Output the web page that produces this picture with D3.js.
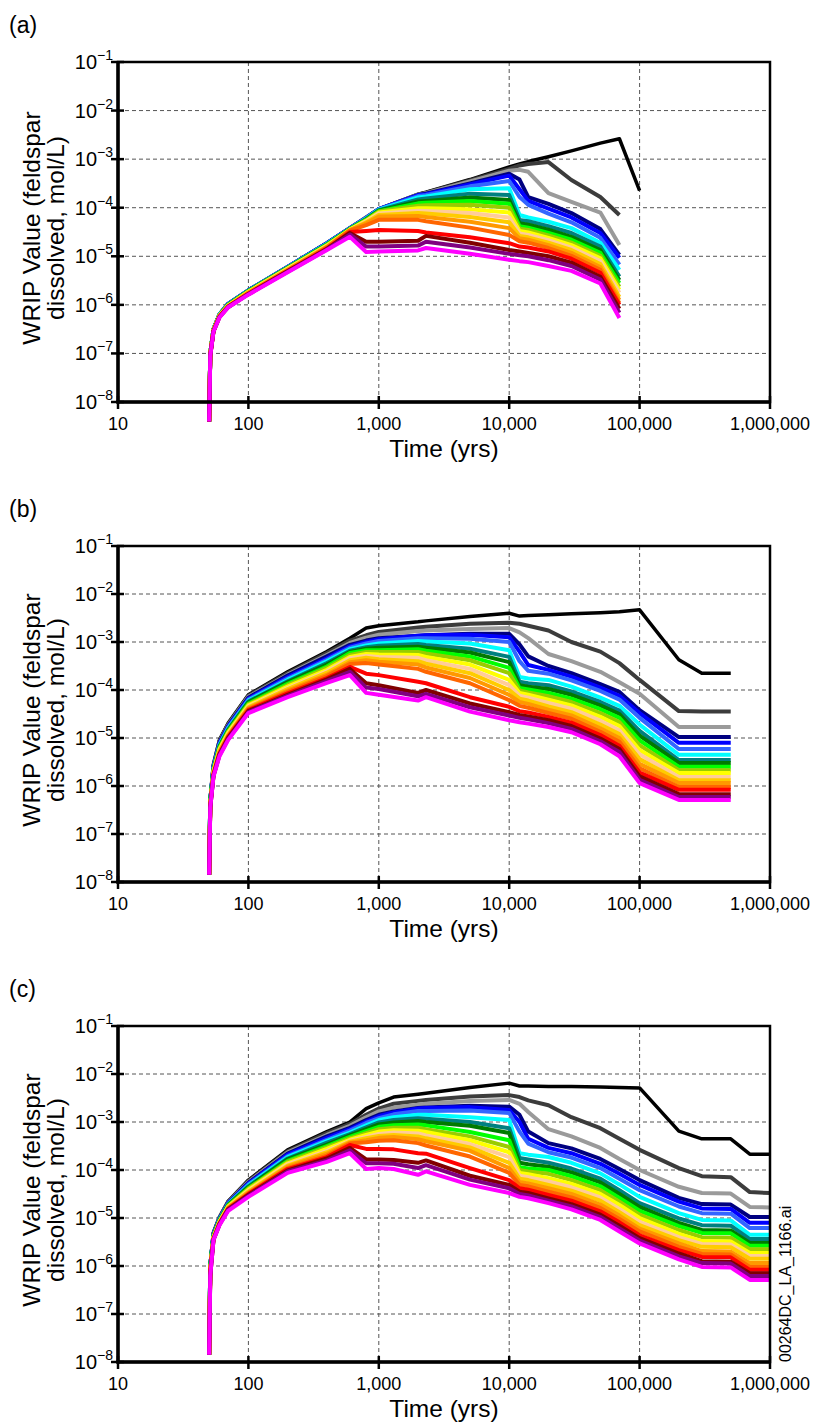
<!DOCTYPE html>
<html lang="en">
<head>
<meta charset="UTF-8">
<title>WRIP Value - feldspar dissolved</title>
<script src="https://cdn.jsdelivr.net/npm/d3@7"></script>
<style>
    body { margin: 0; background: #fff; }
    svg text { font-family: "Liberation Sans", Arial, sans-serif; fill: #000; }
</style>
</head>
<body>
<svg id="chart" width="815" height="1423"></svg>
<script>
// time grids (yrs) of each panel
var timesA = [50, 51, 54, 60, 70, 100, 200, 400, 600, 800, 1000, 2000, 2300, 5000, 10000, 12000, 14000, 20000, 30000, 50000, 70000, 100000];
var timesB = [50, 51, 54, 60, 70, 100, 200, 400, 600, 800, 1000, 2000, 2300, 5000, 10000, 12000, 14000, 20000, 30000, 50000, 70000, 100000, 200000, 300000, 500000];
var timesC = [50, 51, 54, 60, 70, 100, 200, 400, 600, 800, 1000, 1300, 2000, 2300, 5000, 10000, 12000, 14000, 20000, 30000, 50000, 70000, 100000, 200000, 300000, 500000, 700000, 1000000];

var seriesNames = ["black", "dark gray", "gray", "navy", "blue", "royal blue", "cyan", "teal", "dark green", "green",
    "yellow green", "yellow", "peach", "gold", "orange", "dark orange", "red", "maroon", "purple", "magenta"];
var seriesColors = ["#000000", "#3c3c3c", "#9a9a9a", "#000080", "#0000ff", "#3366ff", "#00ffff", "#008080", "#007a00", "#00ff00",
    "#99cc00", "#ffff00", "#ffcc99", "#ffcc00", "#ff9900", "#ff6600", "#ff0000", "#800000", "#800080", "#ff00ff"];

// log10 of WRIP value (mol/L), one row per series
var logA = [
    [-8.4,-7.0,-6.5,-6.2,-5.98,-5.7,-5.22,-4.73,-4.42,-4.2,-4.03, -3.72,-3.68,-3.42,-3.16,-3.1,-3.05,-2.95,-2.83,-2.67,-2.58,-3.65],
    [-8.4,-7.0,-6.5,-6.2,-5.98,-5.7,-5.22,-4.73,-4.42,-4.2,-4.03, -3.73,-3.69,-3.44,-3.2,-3.13,-3.1,-3.06,-3.43,-3.78,-4.15,null],
    [-8.4,-7.0,-6.5,-6.2,-5.98,-5.7,-5.22,-4.73,-4.42,-4.2,-4.03, -3.73,-3.7,-3.46,-3.24,-3.22,-3.26,-3.7,-3.88,-4.1,-4.77,null],
    [-8.4,-7.0,-6.5,-6.2,-5.98,-5.7,-5.22,-4.73,-4.42,-4.21,-4.03, -3.74,-3.71,-3.5,-3.3,-3.42,-3.78,-3.92,-4.11,-4.44,-4.97,null],
    [-8.4,-7.0,-6.5,-6.2,-5.98,-5.7,-5.22,-4.73,-4.42,-4.21,-4.03, -3.74,-3.72,-3.52,-3.34,-3.62,-3.86,-4.02,-4.2,-4.52,-5.03,null],
    [-8.4,-7.0,-6.5,-6.2,-5.98,-5.7,-5.22,-4.74,-4.42,-4.21,-4.03, -3.76,-3.74,-3.56,-3.45,-3.78,-3.94,-4.12,-4.3,-4.62,-5.17,null],
    [-8.4,-7.0,-6.5,-6.2,-5.99,-5.71,-5.23,-4.74,-4.43,-4.22,-4.04, -3.79,-3.77,-3.62,-3.6,-4.15,-4.2,-4.29,-4.42,-4.72,-5.28,null],
    [-8.4,-7.0,-6.5,-6.21,-5.99,-5.71,-5.23,-4.75,-4.43,-4.23,-4.05, -3.83,-3.81,-3.71,-3.74,-4.25,-4.28,-4.38,-4.52,-4.8,-5.42,null],
    [-8.4,-7.0,-6.51,-6.21,-6.0,-5.72,-5.24,-4.76,-4.44,-4.24,-4.06, -3.87,-3.86,-3.79,-3.84,-4.32,-4.35,-4.45,-4.6,-4.87,-5.49,null],
    [-8.4,-7.0,-6.51,-6.21,-6.0,-5.72,-5.24,-4.76,-4.44,-4.25,-4.07, -3.91,-3.9,-3.86,-3.92,-4.38,-4.41,-4.52,-4.66,-4.93,-5.55,null],
    [-8.4,-7.0,-6.51,-6.22,-6.01,-5.73,-5.25,-4.77,-4.45,-4.26,-4.08, -3.96,-3.95,-3.94,-4.0,-4.43,-4.46,-4.57,-4.72,-4.99,-5.63,null],
    [-8.4,-7.0,-6.52,-6.22,-6.01,-5.73,-5.25,-4.78,-4.45,-4.27,-4.1, -4.01,-4.01,-4.03,-4.1,-4.48,-4.51,-4.62,-4.77,-5.04,-5.69,null],
    [-8.4,-7.02,-6.52,-6.22,-6.02,-5.74,-5.26,-4.79,-4.46,-4.28,-4.12, -4.06,-4.07,-4.11,-4.2,-4.53,-4.56,-4.67,-4.82,-5.1,-5.75,null],
    [-8.4,-7.02,-6.52,-6.23,-6.02,-5.74,-5.27,-4.8,-4.46,-4.3,-4.15, -4.11,-4.12,-4.19,-4.3,-4.58,-4.61,-4.72,-4.87,-5.16,-5.84,null],
    [-8.4,-7.02,-6.53,-6.23,-6.03,-5.75,-5.28,-4.81,-4.46,-4.32,-4.18, -4.17,-4.19,-4.29,-4.42,-4.63,-4.66,-4.77,-4.93,-5.22,-5.9,null],
    [-8.4,-7.03,-6.53,-6.24,-6.03,-5.76,-5.29,-4.82,-4.47,-4.36,-4.25, -4.25,-4.28,-4.41,-4.56,-4.69,-4.72,-4.83,-4.99,-5.28,-5.96,null],
    [-8.4,-7.03,-6.54,-6.24,-6.04,-5.77,-5.3,-4.84,-4.5,-4.48,-4.46, -4.48,-4.51,-4.61,-4.73,-4.8,-4.82,-4.9,-5.05,-5.34,-6.0,null],
    [-8.4,-7.04,-6.54,-6.25,-6.04,-5.78,-5.31,-4.85,-4.52,-4.7,-4.7, -4.68,-4.58,-4.72,-4.87,-4.9,-4.93,-5.0,-5.13,-5.42,-6.08,null],
    [-8.4,-7.05,-6.55,-6.25,-6.05,-5.78,-5.32,-4.86,-4.55,-4.8,-4.8, -4.78,-4.7,-4.82,-4.95,-4.98,-5.0,-5.08,-5.2,-5.48,-6.16,null],
    [-8.4,-7.05,-6.55,-6.26,-6.05,-5.79,-5.33,-4.87,-4.6,-4.91,-4.9, -4.88,-4.83,-4.95,-5.07,-5.1,-5.12,-5.2,-5.3,-5.56,-6.27,null]
];

var logB = [
    [-7.85,-6.3,-5.55,-5.04,-4.69,-4.1,-3.62,-3.2,-2.92,-2.71,-2.66, -2.58,-2.56,-2.47,-2.4,-2.46,-2.45,-2.43,-2.41,-2.39,-2.37,-2.33,-3.37,-3.65,-3.65],
    [-7.85,-6.3,-5.56,-5.06,-4.71,-4.12,-3.65,-3.23,-2.97,-2.86,-2.79, -2.7,-2.68,-2.62,-2.6,-2.62,-2.66,-2.76,-3.0,-3.2,-3.44,-3.79,-4.44,-4.45,-4.45],
    [-7.85,-6.3,-5.58,-5.08,-4.73,-4.14,-3.68,-3.27,-3.02,-2.91,-2.85, -2.77,-2.76,-2.73,-2.71,-2.8,-2.92,-3.25,-3.4,-3.62,-3.84,-4.08,-4.77,-4.77,-4.77],
    [-7.85,-6.3,-5.59,-5.09,-4.75,-4.16,-3.7,-3.3,-3.06,-2.97,-2.92, -2.87,-2.86,-2.83,-2.83,-3.05,-3.3,-3.5,-3.65,-3.88,-4.04,-4.42,-4.98,-4.98,-4.98],
    [-7.85,-6.3,-5.6,-5.11,-4.76,-4.18,-3.73,-3.34,-3.09,-3.0,-2.94, -2.87,-2.86,-2.85,-2.9,-3.2,-3.48,-3.58,-3.72,-3.95,-4.12,-4.48,-5.1,-5.1,-5.1],
    [-7.85,-6.3,-5.62,-5.13,-4.78,-4.2,-3.76,-3.37,-3.12,-3.03,-2.98, -2.92,-2.92,-2.93,-3.0,-3.4,-3.6,-3.66,-3.8,-4.02,-4.2,-4.58,-5.23,-5.23,-5.23],
    [-7.85,-6.3,-5.63,-5.15,-4.8,-4.22,-3.79,-3.4,-3.15,-3.07,-3.03, -2.98,-2.99,-3.03,-3.17,-3.73,-3.76,-3.79,-3.93,-4.16,-4.33,-4.72,-5.35,-5.35,-5.35],
    [-7.85,-6.3,-5.64,-5.17,-4.82,-4.24,-3.82,-3.44,-3.18,-3.11,-3.08, -3.04,-3.06,-3.14,-3.31,-3.83,-3.86,-3.9,-4.03,-4.25,-4.43,-4.85,-5.46,-5.46,-5.46],
    [-7.85,-6.3,-5.66,-5.18,-4.84,-4.26,-3.84,-3.47,-3.21,-3.14,-3.12, -3.1,-3.12,-3.22,-3.42,-3.9,-3.93,-3.98,-4.1,-4.32,-4.5,-4.95,-5.52,-5.52,-5.52],
    [-7.85,-6.3,-5.67,-5.2,-4.86,-4.28,-3.87,-3.51,-3.23,-3.17,-3.17, -3.15,-3.18,-3.3,-3.54,-3.96,-3.99,-4.06,-4.18,-4.4,-4.58,-5.05,-5.6,-5.6,-5.6],
    [-7.85,-6.4,-5.68,-5.22,-4.87,-4.3,-3.9,-3.54,-3.27,-3.21,-3.21, -3.21,-3.24,-3.38,-3.65,-4.01,-4.05,-4.13,-4.25,-4.48,-4.67,-5.15,-5.67,-5.67,-5.67],
    [-7.85,-6.4,-5.7,-5.24,-4.89,-4.32,-3.93,-3.58,-3.31,-3.25,-3.26, -3.27,-3.31,-3.47,-3.79,-4.06,-4.1,-4.2,-4.32,-4.56,-4.75,-5.25,-5.73,-5.73,-5.73],
    [-7.85,-6.4,-5.71,-5.26,-4.91,-4.34,-3.96,-3.61,-3.34,-3.29,-3.31, -3.33,-3.38,-3.56,-3.9,-4.12,-4.16,-4.27,-4.39,-4.64,-4.84,-5.34,-5.81,-5.81,-5.81],
    [-7.85,-6.4,-5.72,-5.27,-4.93,-4.36,-3.98,-3.64,-3.38,-3.33,-3.36, -3.4,-3.45,-3.65,-4.0,-4.18,-4.22,-4.34,-4.46,-4.72,-4.92,-5.44,-5.88,-5.88,-5.88],
    [-7.85,-6.4,-5.74,-5.29,-4.95,-4.38,-4.01,-3.68,-3.42,-3.38,-3.41, -3.47,-3.53,-3.75,-4.1,-4.25,-4.29,-4.41,-4.53,-4.8,-5.0,-5.54,-5.94,-5.94,-5.94],
    [-7.85,-6.4,-5.75,-5.31,-4.96,-4.4,-4.04,-3.71,-3.46,-3.44,-3.47, -3.56,-3.62,-3.86,-4.21,-4.33,-4.37,-4.48,-4.6,-4.87,-5.08,-5.63,-6.02,-6.02,-6.02],
    [-7.85,-6.4,-5.76,-5.33,-4.98,-4.42,-4.07,-3.75,-3.52,-3.66,-3.69, -3.83,-3.86,-4.15,-4.35,-4.44,-4.47,-4.56,-4.68,-4.94,-5.16,-5.72,-6.08,-6.08,-6.08],
    [-7.85,-6.45,-5.78,-5.34,-5.0,-4.44,-4.1,-3.78,-3.56,-3.86,-3.9, -4.06,-4.0,-4.28,-4.46,-4.52,-4.55,-4.63,-4.75,-5.01,-5.23,-5.8,-6.17,-6.17,-6.17],
    [-7.85,-6.45,-5.79,-5.36,-5.02,-4.46,-4.12,-3.81,-3.62,-3.95,-3.98, -4.13,-4.08,-4.36,-4.53,-4.58,-4.61,-4.69,-4.81,-5.07,-5.29,-5.87,-6.23,-6.23,-6.23],
    [-7.85,-6.45,-5.8,-5.38,-5.04,-4.48,-4.15,-3.85,-3.69,-4.06,-4.1, -4.22,-4.15,-4.45,-4.63,-4.67,-4.7,-4.77,-4.88,-5.13,-5.38,-5.94,-6.29,-6.29,-6.29]
];

var logC = [
    [-7.85,-6.0,-5.3,-4.98,-4.65,-4.21,-3.58,-3.2,-3.0,-2.72,-2.6,-2.48, -2.42,-2.4,-2.28,-2.19,-2.25,-2.25,-2.26,-2.26,-2.27,-2.28,-2.29,-3.19,-3.35,-3.35,-3.67,-3.67],
    [-7.85,-6.0,-5.31,-4.99,-4.66,-4.23,-3.61,-3.23,-3.04,-2.85,-2.72,-2.62, -2.56,-2.54,-2.47,-2.44,-2.48,-2.55,-2.65,-2.9,-3.13,-3.35,-3.58,-3.96,-4.13,-4.15,-4.46,-4.48],
    [-7.85,-6.0,-5.32,-5.0,-4.67,-4.25,-3.63,-3.27,-3.08,-2.9,-2.78,-2.7, -2.64,-2.62,-2.56,-2.54,-2.62,-2.79,-3.15,-3.3,-3.54,-3.77,-4.0,-4.35,-4.48,-4.49,-4.77,-4.78],
    [-7.85,-6.0,-5.33,-5.01,-4.68,-4.27,-3.66,-3.3,-3.12,-2.96,-2.85,-2.78, -2.71,-2.7,-2.66,-2.68,-2.85,-3.2,-3.44,-3.55,-3.77,-3.98,-4.21,-4.58,-4.71,-4.72,-4.98,-4.98],
    [-7.85,-6.0,-5.34,-5.02,-4.69,-4.28,-3.68,-3.33,-3.15,-2.99,-2.88,-2.8, -2.72,-2.71,-2.69,-2.75,-3.0,-3.35,-3.54,-3.65,-3.87,-4.08,-4.31,-4.66,-4.8,-4.81,-5.1,-5.1],
    [-7.85,-6.0,-5.35,-5.03,-4.7,-4.3,-3.71,-3.37,-3.18,-3.02,-2.92,-2.84, -2.77,-2.77,-2.76,-2.81,-3.2,-3.45,-3.63,-3.74,-3.96,-4.18,-4.42,-4.76,-4.9,-4.91,-5.21,-5.21],
    [-7.85,-6.0,-5.36,-5.03,-4.71,-4.32,-3.73,-3.4,-3.22,-3.07,-2.96,-2.9, -2.85,-2.85,-2.9,-2.96,-3.65,-3.68,-3.73,-3.85,-4.07,-4.3,-4.56,-4.9,-5.04,-5.05,-5.35,-5.35],
    [-7.85,-6.0,-5.36,-5.04,-4.72,-4.34,-3.76,-3.43,-3.25,-3.11,-3.01,-2.96, -2.92,-2.93,-3.0,-3.13,-3.75,-3.78,-3.85,-3.97,-4.18,-4.42,-4.69,-5.01,-5.15,-5.16,-5.44,-5.44],
    [-7.85,-6.0,-5.37,-5.05,-4.73,-4.36,-3.78,-3.47,-3.28,-3.15,-3.05,-3.01, -2.98,-3.0,-3.08,-3.23,-3.85,-3.88,-3.93,-4.05,-4.26,-4.5,-4.77,-5.1,-5.25,-5.26,-5.52,-5.52],
    [-7.85,-6.0,-5.38,-5.06,-4.74,-4.38,-3.81,-3.5,-3.31,-3.19,-3.1,-3.07, -3.05,-3.07,-3.21,-3.38,-3.94,-3.97,-4.0,-4.13,-4.34,-4.58,-4.85,-5.17,-5.31,-5.32,-5.58,-5.58],
    [-7.85,-6.1,-5.39,-5.07,-4.75,-4.39,-3.83,-3.53,-3.34,-3.23,-3.15,-3.12, -3.12,-3.15,-3.3,-3.52,-4.0,-4.03,-4.08,-4.21,-4.42,-4.66,-4.93,-5.25,-5.4,-5.41,-5.65,-5.65],
    [-7.85,-6.1,-5.4,-5.08,-4.76,-4.41,-3.86,-3.56,-3.37,-3.27,-3.2,-3.17, -3.18,-3.21,-3.38,-3.63,-4.06,-4.09,-4.17,-4.29,-4.5,-4.73,-5.0,-5.33,-5.48,-5.49,-5.73,-5.73],
    [-7.85,-6.1,-5.41,-5.09,-4.77,-4.43,-3.88,-3.6,-3.39,-3.31,-3.25,-3.22, -3.24,-3.28,-3.46,-3.73,-4.12,-4.15,-4.24,-4.36,-4.57,-4.81,-5.08,-5.4,-5.54,-5.55,-5.79,-5.79],
    [-7.85,-6.1,-5.41,-5.1,-4.78,-4.45,-3.91,-3.63,-3.41,-3.34,-3.29,-3.27, -3.3,-3.34,-3.53,-3.85,-4.18,-4.21,-4.31,-4.43,-4.64,-4.88,-5.15,-5.46,-5.6,-5.61,-5.85,-5.85],
    [-7.85,-6.1,-5.42,-5.11,-4.79,-4.47,-3.93,-3.66,-3.43,-3.38,-3.33,-3.31, -3.36,-3.4,-3.6,-3.96,-4.25,-4.28,-4.38,-4.5,-4.72,-4.95,-5.22,-5.53,-5.69,-5.7,-5.94,-5.94],
    [-7.85,-6.1,-5.43,-5.11,-4.8,-4.49,-3.96,-3.7,-3.45,-3.42,-3.39,-3.38, -3.44,-3.49,-3.72,-4.06,-4.31,-4.34,-4.45,-4.57,-4.79,-5.02,-5.28,-5.6,-5.75,-5.76,-6.02,-6.02],
    [-7.85,-6.1,-5.44,-5.12,-4.81,-4.5,-3.98,-3.73,-3.48,-3.56,-3.56,-3.57, -3.65,-3.66,-3.96,-4.21,-4.38,-4.41,-4.52,-4.64,-4.86,-5.09,-5.36,-5.67,-5.81,-5.82,-6.08,-6.08],
    [-7.85,-6.2,-5.45,-5.13,-4.82,-4.52,-4.01,-3.76,-3.54,-3.78,-3.78,-3.79, -3.85,-3.8,-4.12,-4.31,-4.45,-4.48,-4.59,-4.71,-4.93,-5.16,-5.42,-5.74,-5.9,-5.91,-6.15,-6.15],
    [-7.85,-6.2,-5.45,-5.14,-4.83,-4.54,-4.03,-3.8,-3.59,-3.86,-3.86,-3.87, -3.96,-3.9,-4.2,-4.38,-4.5,-4.53,-4.64,-4.76,-4.98,-5.22,-5.47,-5.8,-5.94,-5.95,-6.21,-6.21],
    [-7.85,-6.2,-5.46,-5.15,-4.85,-4.56,-4.06,-3.83,-3.65,-3.98,-3.96,-3.98, -4.1,-4.03,-4.31,-4.48,-4.56,-4.59,-4.69,-4.82,-5.04,-5.28,-5.53,-5.86,-6.02,-6.03,-6.29,-6.29]
];

var xTicks = [10, 100, 1000, 10000, 100000, 1000000];
var xTickLabels = ["10", "100", "1,000", "10,000", "100,000", "1,000,000"];
var yExponents = [-1, -2, -3, -4, -5, -6, -7, -8];

var panels = [
    {label: "(a)", top: 62, bottom: 402, times: timesA, rows: logA},
    {label: "(b)", top: 546, bottom: 882, times: timesB, rows: logB},
    {label: "(c)", top: 1026, bottom: 1362, times: timesC, rows: logC}
];

var left = 118, right = 770;
var svg = d3.select("#chart");

var x = d3.scaleLog().domain([10, 1e6]).range([left, right]);

panels.forEach(function(p) {
    var y = d3.scaleLog().domain([1e-8, 1e-1]).range([p.bottom, p.top]);
    var g = svg.append("g");

    // dashed grid
    g.selectAll(".gx").data(xTicks.slice(1, -1)).enter().append("line")
        .attr("x1", function(d) { return x(d); }).attr("x2", function(d) { return x(d); })
        .attr("y1", p.top).attr("y2", p.bottom)
        .attr("stroke", "#555").attr("stroke-width", 1).attr("stroke-dasharray", "4,3");
    g.selectAll(".gy").data(yExponents.slice(1, -1)).enter().append("line")
        .attr("x1", left).attr("x2", right)
        .attr("y1", function(d) { return y(Math.pow(10, d)); }).attr("y2", function(d) { return y(Math.pow(10, d)); })
        .attr("stroke", "#555").attr("stroke-width", 1).attr("stroke-dasharray", "4,3");

    // series
    var line = d3.line()
        .defined(function(d) { return d[1] !== null; })
        .x(function(d) { return x(d[0]); })
        .y(function(d) { return y(Math.pow(10, d[1])); });

    p.rows.forEach(function(row, i) {
        var pts = p.times.map(function(t, k) { return [t, row[k]]; });
        g.append("path")
            .datum(pts)
            .attr("d", line)
            .attr("fill", "none")
            .attr("stroke", seriesColors[i])
            .attr("stroke-width", i === 0 ? 3.5 : 4)
            .attr("stroke-linejoin", "round");
    });

    // frame
    g.append("rect")
        .attr("x", left).attr("y", p.top)
        .attr("width", right - left).attr("height", p.bottom - p.top)
        .attr("fill", "none").attr("stroke", "#000").attr("stroke-width", 2.5);
    g.append("line").attr("x1", left).attr("x2", left).attr("y1", p.top - 1).attr("y2", p.bottom + 1.5)
        .attr("stroke", "#000").attr("stroke-width", 3.5);
    g.append("line").attr("x1", left - 1.5).attr("x2", right + 1).attr("y1", p.bottom).attr("y2", p.bottom)
        .attr("stroke", "#000").attr("stroke-width", 3.5);

    // ticks crossing the axes
    g.selectAll(".tx").data(xTicks).enter().append("line")
        .attr("x1", function(d) { return x(d); }).attr("x2", function(d) { return x(d); })
        .attr("y1", p.bottom - 6).attr("y2", p.bottom + 7)
        .attr("stroke", "#000").attr("stroke-width", 2.5);
    g.selectAll(".ty").data(yExponents).enter().append("line")
        .attr("x1", left - 7).attr("x2", left + 6)
        .attr("y1", function(d) { return y(Math.pow(10, d)); }).attr("y2", function(d) { return y(Math.pow(10, d)); })
        .attr("stroke", "#000").attr("stroke-width", 2.5);

    // tick labels
    g.selectAll(".lx").data(xTicks).enter().append("text")
        .attr("x", function(d) { return x(d); })
        .attr("y", p.bottom + 28)
        .attr("text-anchor", "middle")
        .attr("font-size", 18)
        .text(function(d, i) { return xTickLabels[i]; });

    var yl = g.selectAll(".ly").data(yExponents).enter().append("text")
        .attr("x", 113)
        .attr("y", function(d) { return y(Math.pow(10, d)) + 7; })
        .attr("text-anchor", "end")
        .attr("font-size", 20);
    yl.append("tspan").text("10");
    yl.append("tspan").attr("dy", -9).attr("font-size", 14).text(function(d) { return "\u2212" + Math.abs(d); });

    // titles
    g.append("text")
        .attr("x", (left + right) / 2)
        .attr("y", p.bottom + 55)
        .attr("text-anchor", "middle")
        .attr("font-size", 24.5)
        .text("Time (yrs)");

    var cy = (p.top + p.bottom) / 2 - 4;
    g.append("text")
        .attr("transform", "translate(40," + cy + ") rotate(-90)")
        .attr("text-anchor", "middle")
        .attr("font-size", 24.5)
        .text("WRIP Value (feldspar");
    g.append("text")
        .attr("transform", "translate(64," + cy + ") rotate(-90)")
        .attr("text-anchor", "middle")
        .attr("font-size", 24.5)
        .text("dissolved, mol/L)");

    g.append("text")
        .attr("x", 9)
        .attr("y", p.top - 29)
        .attr("font-size", 23)
        .text(p.label);
});

svg.append("text")
    .attr("transform", "translate(791,1362) rotate(-90)")
    .attr("text-anchor", "start")
    .attr("font-size", 16)
    .text("00264DC_LA_1166.ai");
</script>
</body>
</html>
